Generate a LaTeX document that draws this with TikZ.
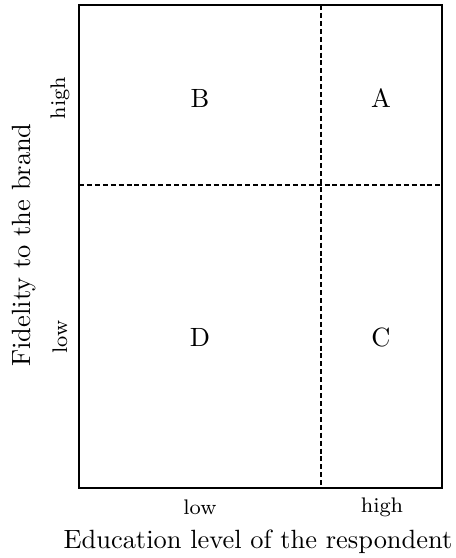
\documentclass[tikz,border=0pt]{standalone}
\begin{document}
\begin{tikzpicture}[x=0.3788pt,y=-0.3788pt,
  frame/.style={line width=0.9pt},
  divider/.style={line width=0.9pt,dash pattern=on 1.9pt off 1.1pt},
  cell/.style={font=\normalsize},
  tick/.style={font=\footnotesize},
  axis/.style={font=\normalsize}]
\useasboundingbox (0,0) rectangle (455,558);
\coordinate (tl) at (79,5);
\coordinate (br) at (442,488);
\coordinate (vt) at (321,5);
\coordinate (vb) at (321,488);
\coordinate (hl) at (79,185);
\coordinate (hr) at (442,185);
\draw[divider] (vt) -- (vb);
\draw[divider] (hl) -- (hr);
\draw[frame] (tl) rectangle (br);
\node[cell] (B) at (200,98) {B};
\node[cell] (A) at (381,98) {A};
\node[cell] (D) at (200,337) {D};
\node[cell] (C) at (381,337) {C};
\node[tick,rotate=90] (yh) at (60,98) {high};
\node[tick,rotate=90] (yl) at (60,337) {low};
\node[axis,rotate=90] (ylab) at (24,245) {Fidelity to the brand};
\node[tick] (xl) at (200,507) {low};
\node[tick] (xh) at (382,507) {high};
\node[axis] (xlab) at (258,542) {Education level of the respondent};
\end{tikzpicture}
\end{document}
